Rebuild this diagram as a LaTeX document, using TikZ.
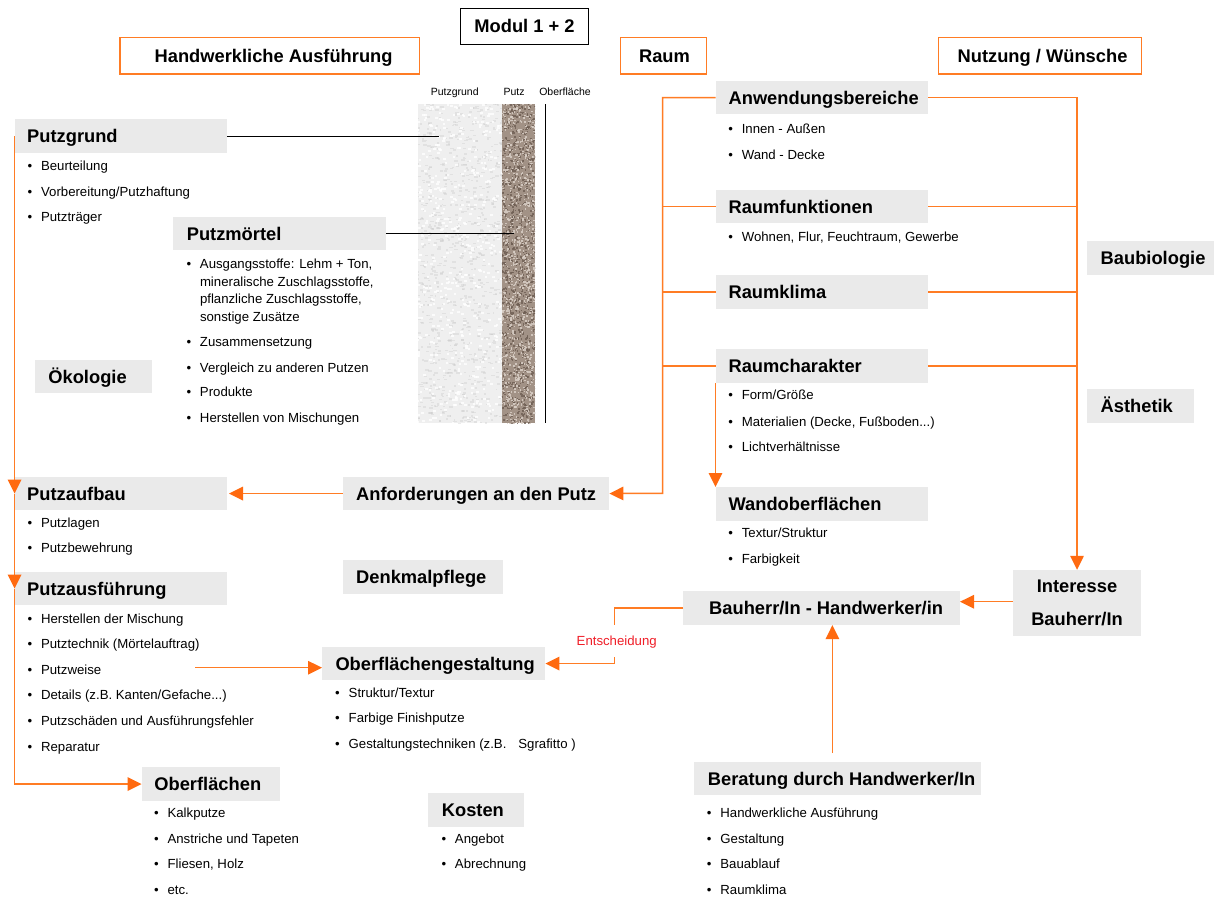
\documentclass[tikz,border=0pt]{standalone}
\usepackage{fontspec}
\setmainfont{Liberation Sans}
\usetikzlibrary{arrows.meta}
\definecolor{boxgray}{HTML}{EAEAEA}
\definecolor{ornge}{RGB}{255,124,36}
\definecolor{arrowor}{RGB}{255,106,16}
\definecolor{entred}{RGB}{240,30,40}
\definecolor{lightbase}{HTML}{EFEFEF}
\definecolor{lightspeck}{HTML}{C8C8C8}
\definecolor{brownbase}{HTML}{A29286}
\definecolor{browndark}{HTML}{6E5E53}
\definecolor{brownlight}{HTML}{D9CFC6}
\newcommand{\myhead}{\fontsize{18.3pt}{22pt}\selectfont\bfseries}
\newcommand{\myitem}{\fontsize{13.2pt}{16pt}\selectfont}
\newcommand{\mysmall}{\fontsize{10.5pt}{12pt}\selectfont}
\newcommand{\boxtext}[3]{\makebox[#1pt][l]{\hspace*{#2pt}#3}}
\newcommand{\blt}{\makebox[13.5pt][l]{•}}
\tikzset{
  hbox/.style={fill=boxgray, inner sep=0pt, anchor=north west, minimum height=33.7pt,
    text height=13.3pt, text depth=0pt, font=\myhead},
  topbox/.style={draw=ornge, line width=1.3pt, fill=white, inner sep=0pt, anchor=north west,
    minimum height=36.6pt, text height=13.3pt, text depth=0pt, font=\myhead},
  item/.style={anchor=base west, inner sep=0pt, font=\myitem},
  smalllabel/.style={anchor=base, inner sep=0pt, font=\mysmall},
  oline/.style={draw=ornge, line width=1.5pt},
  oarrow/.style={oline, -{Triangle[length=14pt,width=13.5pt,color=arrowor]}},
  blackline/.style={draw=black, line width=1pt},
}
\begin{document}
\begin{tikzpicture}[x=1pt,y=-1pt]
\fill[white] (0,0) rectangle (1214,897);
\useasboundingbox (0,0) rectangle (1214,897);

% ---------- wall section texture ----------
\pgfmathsetseed{7}
\fill[lightbase] (418,104) rectangle (502,423);
\begin{scope}
\clip (418,104) rectangle (502,423);
\foreach \i in {1,...,900}{
  \pgfmathsetmacro{\xa}{416+86*rnd}\pgfmathsetmacro{\ya}{102+321*rnd}
  \pgfmathsetmacro{\sa}{1.5+2.5*rnd}
  \fill[lightspeck, opacity=0.35] (\xa,\ya) rectangle ++(\sa,1.6);
}
\foreach \i in {1,...,500}{
  \pgfmathsetmacro{\xa}{416+86*rnd}\pgfmathsetmacro{\ya}{102+321*rnd}
  \fill[white, opacity=0.8] (\xa,\ya) rectangle ++(2.6,2);
}
\end{scope}
\fill[brownbase] (502,104) rectangle (535,423);
\begin{scope}
\clip (502,104) rectangle (535,423);
\foreach \i in {1,...,1100}{
  \pgfmathsetmacro{\xa}{501+34*rnd}\pgfmathsetmacro{\ya}{103+320*rnd}
  \fill[browndark, opacity=0.8] (\xa,\ya) rectangle ++(1.5,1.5);
}
\foreach \i in {1,...,900}{
  \pgfmathsetmacro{\xa}{501+34*rnd}\pgfmathsetmacro{\ya}{103+320*rnd}
  \fill[brownlight, opacity=0.85] (\xa,\ya) rectangle ++(1.5,1.5);
}
\end{scope}
\draw[blackline] (545.5,104) -- (545.5,423);
\node[smalllabel] (lpgrund) at (454.7,95.4) {Putzgrund};
\node[smalllabel] (lputz) at (514,95.4) {Putz};
\node[smalllabel] (lober) at (565,95.4) {Oberfläche};

% ---------- top headers ----------
\node[draw=black, line width=1.2pt, fill=white, inner sep=0pt, minimum width=127.8pt,
  minimum height=36pt, font=\myhead] (modul) at (524.5,26.3) {Modul 1 + 2};
\node[topbox] (handw) at (119.4,36.7) {\boxtext{299.6}{34.6}{Handwerkliche Ausführung}};
\node[topbox] (raum) at (619.6,36.7) {\boxtext{86.1}{18.8}{Raum}};
\node[topbox] (nutzung) at (938,36.7) {\boxtext{203}{19}{Nutzung / Wünsche}};

% ---------- left column ----------
\node[hbox] (putzgrund) at (14.6,119) {\boxtext{212}{12.4}{Putzgrund}};
\node[item] (pg1) at (27.4,170.2) {\blt Beurteilung};
\node[item] (pg2) at (27.4,196.2) {\blt Vorbereitung/Putzhaftung};
\node[item] (pg3) at (27.4,221.2) {\blt Putzträger};

\node[hbox] (putzmoertel) at (173,216.3) {\boxtext{212.5}{13.6}{Putzmörtel}};
\node[item] (pm1) at (186.3,268.8) {\blt Ausgangsstoffe: Lehm + Ton,};
\node[item] (pm1b) at (199.8,286.3) {mineralische Zuschlagsstoffe,};
\node[item] (pm1c) at (199.8,303.3) {pflanzliche Zuschlagsstoffe,};
\node[item] (pm1d) at (199.8,321.2) {sonstige Zusätze};
\node[item] (pm2) at (186.3,346.2) {\blt Zusammensetzung};
\node[item] (pm3) at (186.3,372.2) {\blt Vergleich zu anderen Putzen};
\node[item] (pm4) at (186.3,396.8) {\blt Produkte};
\node[item] (pm5) at (186.3,422.8) {\blt Herstellen von Mischungen};

\node[hbox] (oekologie) at (35.2,359.5) {\boxtext{116.6}{13}{Ökologie}};

\node[hbox] (putzaufbau) at (14.6,476.5) {\boxtext{212}{12.4}{Putzaufbau}};
\node[item] (pa1) at (27.4,527.2) {\blt Putzlagen};
\node[item] (pa2) at (27.4,552.8) {\blt Putzbewehrung};

\node[hbox] (anforderungen) at (342.8,476.5) {\boxtext{266.2}{13.2}{Anforderungen an den Putz}};
\node[hbox] (denkmal) at (342.8,560) {\boxtext{159.8}{13.2}{Denkmalpflege}};

\node[hbox] (putzausf) at (14.6,571.5) {\boxtext{212}{12.4}{Putzausführung}};
\node[item] (pf1) at (27.4,623.2) {\blt Herstellen der Mischung};
\node[item] (pf2) at (27.4,648.8) {\blt Putztechnik (Mörtelauftrag)};
\node[item] (pf3) at (27.4,674.5) {\blt Putzweise};
\node[item] (pf4) at (27.4,699.8) {\blt Details (z.B. Kanten/Gefache...)};
\node[item] (pf5) at (27.4,725.8) {\blt Putzschäden und Ausführungsfehler};
\node[item] (pf6) at (27.4,751.2) {\blt Reparatur};

\node[hbox] (oberflgest) at (322,646.5) {\boxtext{223}{13.3}{Oberflächengestaltung}};
\node[item] (og1) at (335,697.8) {\blt Struktur/Textur};
\node[item] (og2) at (335,722.8) {\blt Farbige Finishputze};
\node[item] (og3) at (335,748.8) {\blt Gestaltungstechniken (z.B.\hspace{12pt}Sgrafitto )};

\node[hbox] (oberflaechen) at (141.6,767) {\boxtext{138.4}{12.6}{Oberflächen}};
\node[item] (of1) at (153.9,817.8) {\blt Kalkputze};
\node[item] (of2) at (153.9,843.8) {\blt Anstriche und Tapeten};
\node[item] (of3) at (153.9,868.8) {\blt Fliesen, Holz};
\node[item] (of4) at (153.9,894.5) {\blt etc.};

\node[hbox] (kosten) at (427.8,793) {\boxtext{96.2}{13.9}{Kosten}};
\node[item] (ko1) at (441.3,843.8) {\blt Angebot};
\node[item] (ko2) at (441.3,868.8) {\blt Abrechnung};

% ---------- Raum column ----------
\node[hbox] (anwendung) at (715.5,80.5) {\boxtext{212.5}{12.9}{Anwendungsbereiche}};
\node[item] (aw1) at (728.1,133.8) {\blt Innen - Außen};
\node[item] (aw2) at (728.1,159.5) {\blt Wand - Decke};
\node[hbox] (raumfunk) at (715.5,189.5) {\boxtext{212.5}{12.9}{Raumfunktionen}};
\node[item] (rf1) at (728.1,241.8) {\blt Wohnen, Flur, Feuchtraum, Gewerbe};
\node[hbox] (raumklima) at (715.5,275) {\boxtext{212.5}{12.9}{Raumklima}};
\node[hbox] (raumchar) at (715.5,349) {\boxtext{212.5}{12.9}{Raumcharakter}};
\node[item] (rc1) at (728.1,399.8) {\blt Form/Größe};
\node[item] (rc2) at (728.1,426.2) {\blt Materialien (Decke, Fußboden...)};
\node[item] (rc3) at (728.1,451.2) {\blt Lichtverhältnisse};
\node[hbox] (wandober) at (715.5,487) {\boxtext{212.5}{12.9}{Wandoberflächen}};
\node[item] (wo1) at (728.1,537.8) {\blt Textur/Struktur};
\node[item] (wo2) at (728.1,563.8) {\blt Farbigkeit};

\node[hbox] (baubio) at (1087,241) {\boxtext{127}{13.5}{Baubiologie}};
\node[hbox] (aesthetik) at (1087,389) {\boxtext{107}{13.5}{Ästhetik}};

\node[fill=boxgray, inner sep=0pt, minimum width=127.2pt, minimum height=65.7pt,
  align=center, font=\fontsize{18.3pt}{32.3pt}\selectfont\bfseries] (interesse)
  at (1077,602.85) {Interesse\\Bauherr/In};
\node[hbox] (bauherr) at (683,591) {\boxtext{276.6}{26}{Bauherr/In - Handwerker/in}};

\node[hbox] (beratung) at (693.9,761.5) {\boxtext{286.5}{13.8}{Beratung durch Handwerker/In}};
\node[item] (be1) at (706.7,817.8) {\blt Handwerkliche Ausführung};
\node[item] (be2) at (706.7,843.8) {\blt Gestaltung};
\node[item] (be3) at (706.7,868.8) {\blt Bauablauf};
\node[item] (be4) at (706.7,894.5) {\blt Raumklima};

% ---------- coordinates ----------
\coordinate (pgend) at (439,136);
\coordinate (pmend) at (514,233);
\coordinate (rbot) at (662.7,493.3);
\coordinate (bx) at (832.4,0);
\coordinate (iy) at (0,601.7);
\coordinate (pw) at (195,667.7);
\coordinate (e1) at (614.6,625);
\coordinate (e2) at (614.6,657.3);

% ---------- black leader lines ----------
\draw[blackline] (putzgrund.east) -- (pgend |- putzgrund.east);
\draw[blackline] (putzmoertel.east) -- (pmend |- putzmoertel.east);

% ---------- orange connectors ----------
\draw[oarrow] (putzgrund.west) -- (putzaufbau.west);
\draw[oarrow] (putzaufbau.west) -- (putzausf.west);
\draw[oarrow] (putzausf.west) |- (oberflaechen.west);
\draw[oarrow] (anforderungen.west) -- ([xshift=2pt]putzaufbau.east);

\draw[oarrow] (anwendung.west) -| (rbot) -- (anforderungen.east);
\draw[oline] (raumfunk.west) -- (raumfunk.west -| rbot);
\draw[oline] (raumklima.west) -- (raumklima.west -| rbot);
\draw[oline] (raumchar.west) -- (raumchar.west -| rbot);

\draw[oarrow] (anwendung.east) -| (interesse.north);
\draw[oline] (raumfunk.east) -- (raumfunk.east -| interesse.north);
\draw[oline] (raumklima.east) -- (raumklima.east -| interesse.north);
\draw[oline] (raumchar.east) -- (raumchar.east -| interesse.north);

\draw[oarrow] (raumchar.south west) -- (wandober.north west);
\draw[oarrow] (interesse.west |- iy) -- (bauherr.east |- iy);
\draw[oarrow, shorten <=8.3pt] (beratung.north -| bx) -- (bauherr.south -| bx);
\draw[oarrow] (pw) -- (oberflgest.west |- pw);

\draw[oline] (bauherr.west) -| (e1);
\node[inner sep=0pt, font=\myitem, text=entred] (ent) at (616.7,641.7) {Entscheidung};
\draw[oarrow] (e2) |- (oberflgest.east);
\end{tikzpicture}
\end{document}
